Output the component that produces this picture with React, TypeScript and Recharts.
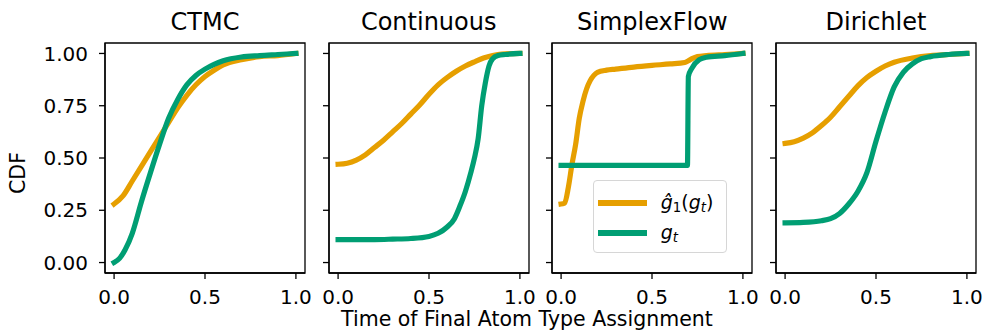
import { LineChart, Line, XAxis, YAxis, ReferenceArea, Legend } from "recharts";

const ORANGE = "#E69F00";
const GREEN = "#009E73";
const FONT = "'DejaVu Sans', sans-serif";

const X_TICKS = [0, 0.5, 1];
const Y_TICKS = [0, 0.25, 0.5, 0.75, 1];
const DOMAIN: [number, number] = [-0.05, 1.05];

// CTMC
const ctmcHatX = [0, 0.05, 0.1, 0.15, 0.2, 0.25, 0.3, 0.35, 0.4, 0.45, 0.5, 0.55, 0.6, 0.7, 0.8, 0.9, 1.0];
const ctmcHatY = [0.28, 0.32, 0.39, 0.46, 0.53, 0.6, 0.67, 0.74, 0.8, 0.85, 0.89, 0.92, 0.945, 0.97, 0.985, 0.99, 1.0];
const ctmcGtX = [0, 0.03, 0.06, 0.1, 0.15, 0.2, 0.25, 0.3, 0.35, 0.4, 0.45, 0.5, 0.55, 0.6, 0.7, 0.8, 0.9, 1.0];
const ctmcGtY = [0.0, 0.02, 0.06, 0.14, 0.29, 0.43, 0.565, 0.69, 0.78, 0.85, 0.895, 0.925, 0.948, 0.965, 0.983, 0.99, 0.995, 1.0];

// Continuous
const contHatX = [0, 0.05, 0.1, 0.15, 0.2, 0.25, 0.3, 0.35, 0.4, 0.45, 0.5, 0.55, 0.6, 0.65, 0.7, 0.75, 0.8, 0.85, 0.9, 1.0];
const contHatY = [0.47, 0.475, 0.49, 0.515, 0.55, 0.585, 0.625, 0.665, 0.71, 0.755, 0.805, 0.85, 0.885, 0.915, 0.94, 0.96, 0.978, 0.99, 0.997, 1.0];
const contGtX = [0, 0.1, 0.2, 0.3, 0.4, 0.5, 0.55, 0.6, 0.64, 0.67, 0.7, 0.73, 0.75, 0.77, 0.79, 0.81, 0.83, 0.85, 0.88, 0.92, 1.0];
const contGtY = [0.11, 0.11, 0.11, 0.112, 0.115, 0.125, 0.14, 0.17, 0.21, 0.27, 0.34, 0.43, 0.5, 0.59, 0.75, 0.86, 0.94, 0.975, 0.99, 0.995, 1.0];

// SimplexFlow
const sfHatX = [0, 0.02, 0.04, 0.06, 0.08, 0.1, 0.12, 0.14, 0.16, 0.18, 0.2, 0.25, 0.3, 0.4, 0.5, 0.6, 0.68, 0.7, 0.72, 0.75, 0.8, 0.9, 1.0];
const sfHatY = [0.28, 0.285, 0.36, 0.47, 0.565, 0.69, 0.77, 0.83, 0.87, 0.895, 0.91, 0.92, 0.925, 0.935, 0.943, 0.95, 0.957, 0.965, 0.975, 0.985, 0.99, 0.995, 1.0];
const sfGtX = [0, 0.1, 0.2, 0.3, 0.4, 0.5, 0.6, 0.695, 0.7, 0.72, 0.76, 0.8, 0.9, 1.0];
const sfGtY = [0.465, 0.465, 0.465, 0.465, 0.465, 0.465, 0.465, 0.465, 0.89, 0.93, 0.97, 0.982, 0.99, 1.0];

// Dirichlet
const dirHatX = [0, 0.05, 0.1, 0.15, 0.2, 0.25, 0.3, 0.35, 0.4, 0.45, 0.5, 0.55, 0.6, 0.7, 0.8, 0.9, 1.0];
const dirHatY = [0.57, 0.578, 0.595, 0.62, 0.655, 0.695, 0.745, 0.795, 0.845, 0.885, 0.915, 0.94, 0.958, 0.978, 0.99, 0.995, 1.0];
const dirGtX = [0, 0.1, 0.2, 0.25, 0.3, 0.35, 0.4, 0.45, 0.5, 0.55, 0.6, 0.65, 0.7, 0.75, 0.8, 0.9, 1.0];
const dirGtY = [0.19, 0.192, 0.2, 0.21, 0.235, 0.28, 0.34, 0.43, 0.58, 0.72, 0.84, 0.91, 0.95, 0.975, 0.985, 0.995, 1.0];

const LEGEND_ORDER = ["hat", "gt"];

const toPoints = (xs: number[], ys: number[]) => xs.map((x, i) => ({ x, y: ys[i] }));

const panels = [
  { title: "CTMC", hat: toPoints(ctmcHatX, ctmcHatY), gt: toPoints(ctmcGtX, ctmcGtY) },
  { title: "Continuous", hat: toPoints(contHatX, contHatY), gt: toPoints(contGtX, contGtY) },
  { title: "SimplexFlow", hat: toPoints(sfHatX, sfHatY), gt: toPoints(sfGtX, sfGtY) },
  { title: "Dirichlet", hat: toPoints(dirHatX, dirHatY), gt: toPoints(dirGtX, dirGtY) },
];

const BOX_LEFT = [105, 328.7, 552.3, 776];
const BOX_W = 200;
const Y_AXIS_W = 70;
const LINE_W = 5.2;

const sub = (s: string, italic = false) => (
  <span style={{ fontSize: "0.7em", verticalAlign: "-0.25em", fontStyle: italic ? "italic" : "normal" }}>{s}</span>
);

const LEGEND_LABELS: Record<string, JSX.Element> = {
  hat: (
    <span>
      <i>ĝ</i>
      {sub("1")}(<i>g</i>
      {sub("t", true)})
    </span>
  ),
  gt: (
    <span>
      <i>g</i>
      {sub("t", true)}
    </span>
  ),
};

function LegendBox({ payload }: any) {
  const items = [...(payload || [])].sort(
    (a: any, b: any) => LEGEND_ORDER.indexOf(a.value) - LEGEND_ORDER.indexOf(b.value)
  );
  return (
    <div
      style={{
        boxSizing: "border-box",
        width: 134,
        height: 73,
        border: "1px solid #d6d6d6",
        borderRadius: 4,
        background: "rgba(255,255,255,0.8)",
        position: "relative",
        fontFamily: FONT,
        fontSize: 19,
        color: "#000",
      }}
    >
      {items.map((entry: any, i: number) => (
        <div key={entry.value} style={{ position: "absolute", left: 4, top: 8 + i * 30, height: 28, display: "flex", alignItems: "center" }}>
          <div style={{ width: 49, height: LINE_W, background: entry.color, marginRight: 14 }} />
          {LEGEND_LABELS[entry.value]}
        </div>
      ))}
    </div>
  );
}

export default function App() {
  return (
    <div style={{ position: "absolute", left: 0, top: 0, width: 984, height: 331, background: "#fff", fontFamily: FONT }}>
      {panels.map((p, idx) => (
        <div key={p.title} style={{ position: "absolute", left: BOX_LEFT[idx] - Y_AXIS_W, top: 0 }}>
          <LineChart width={Y_AXIS_W + BOX_W + 10} height={331} margin={{ top: 43, right: 10, bottom: 28, left: 0 }}>
            <XAxis
              type="number"
              dataKey="x"
              domain={DOMAIN}
              ticks={X_TICKS}
              tickFormatter={(v: number) => v.toFixed(1)}
              height={30}
              tickSize={6}
              tickMargin={11}
              tick={{ fill: "#000", fontSize: 20 }}
              tickLine={{ stroke: "#000", strokeWidth: 1.3 }}
              axisLine={{ stroke: "#000", strokeWidth: 1.3 }}
            />
            <YAxis
              type="number"
              domain={DOMAIN}
              ticks={Y_TICKS}
              tickFormatter={(v: number) => (idx === 0 ? v.toFixed(2) : "")}
              width={Y_AXIS_W}
              tickSize={6}
              tickMargin={11}
              tick={{ fill: "#000", fontSize: 20 }}
              tickLine={{ stroke: "#000", strokeWidth: 1.3 }}
              axisLine={{ stroke: "#000", strokeWidth: 1.3 }}
            />
            <ReferenceArea x1={-0.05} x2={1.05} y1={-0.05} y2={1.05} fill="none" stroke="#000" strokeWidth={1.3} fillOpacity={0} />
            <Line
              data={p.hat}
              dataKey="y"
              name="hat"
              type="monotone"
              stroke={ORANGE}
              strokeWidth={LINE_W}
              strokeLinecap="square"
              dot={false}
              isAnimationActive={false}
            />
            <Line
              data={p.gt}
              dataKey="y"
              name="gt"
              type="monotone"
              stroke={GREEN}
              strokeWidth={LINE_W}
              strokeLinecap="square"
              dot={false}
              isAnimationActive={false}
            />
            {idx === 2 && (
              <Legend
                layout="vertical"
                align="center"
                verticalAlign="middle"
                content={<LegendBox />}
                wrapperStyle={{ left: 110.5, top: 180, width: 134, height: 73 }}
              />
            )}
          </LineChart>
        </div>
      ))}
      <svg width={984} height={331} style={{ position: "absolute", left: 0, top: 0, pointerEvents: "none" }}>
        {panels.map((p, idx) => (
          <text key={p.title} x={BOX_LEFT[idx] + BOX_W / 2} y={30} textAnchor="middle" fontSize={24} fill="#000">
            {p.title}
          </text>
        ))}
        <text transform="translate(25,173) rotate(-90)" textAnchor="middle" fontSize={20.5} fill="#000">
          CDF
        </text>
        <text x={527} y={326} textAnchor="middle" fontSize={20.5} fill="#000">
          Time of Final Atom Type Assignment
        </text>
      </svg>
    </div>
  );
}
